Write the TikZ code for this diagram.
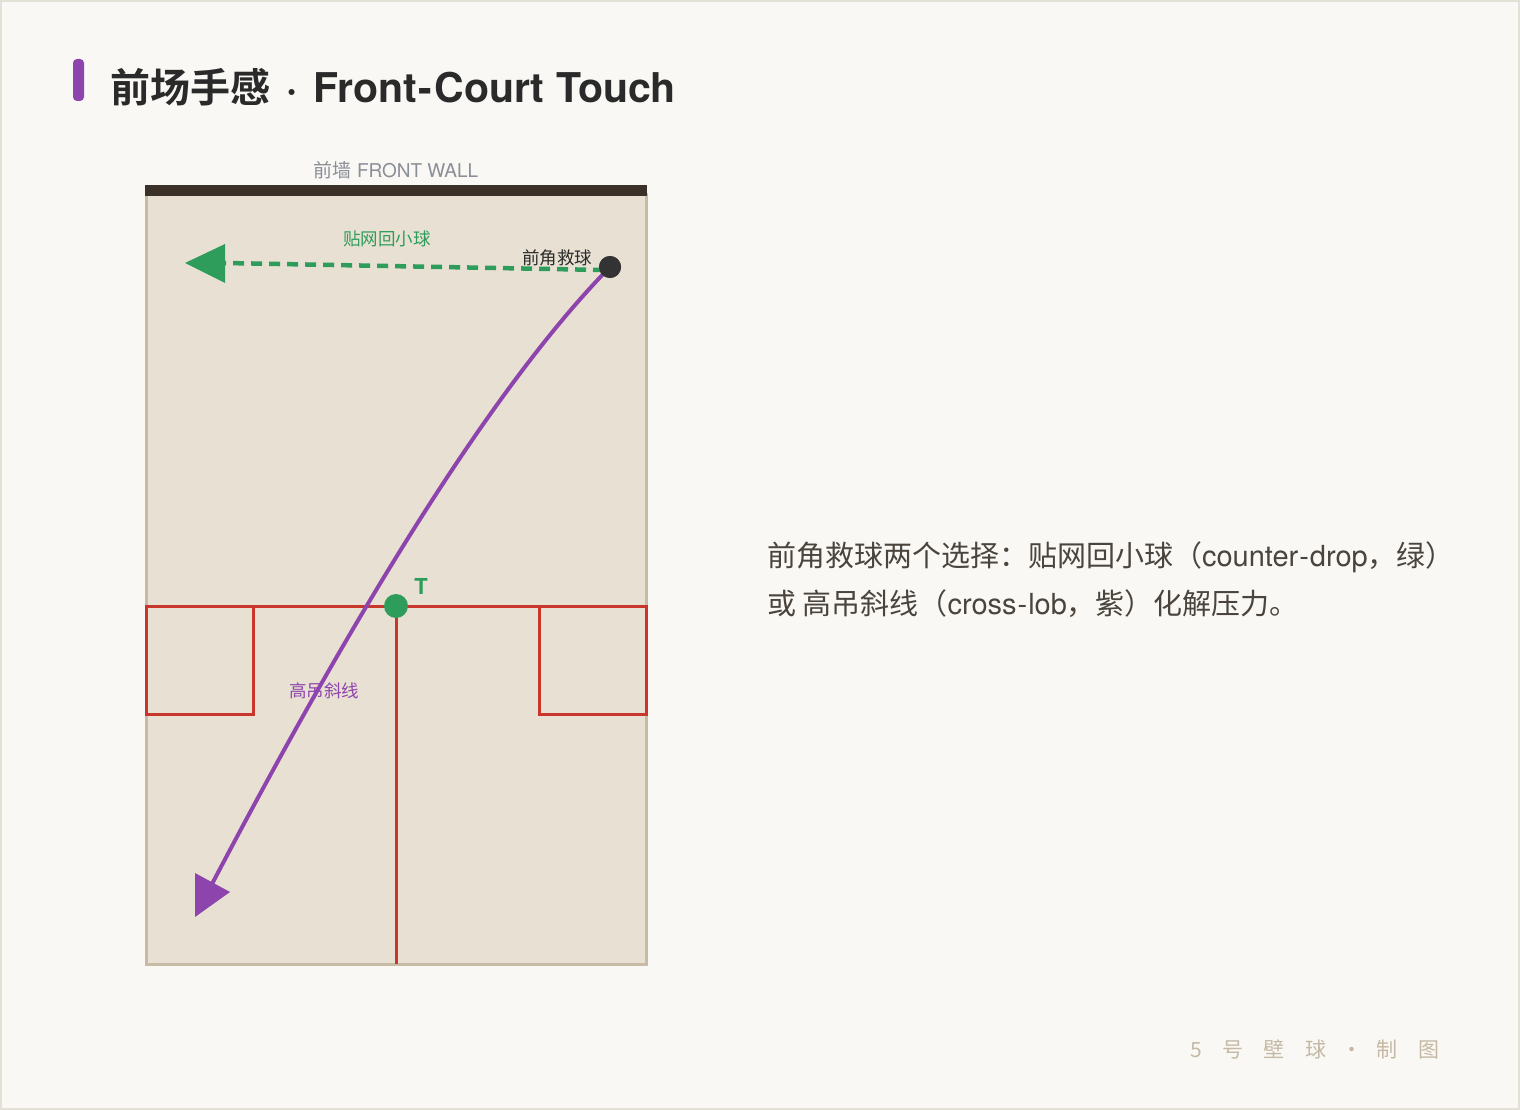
\documentclass[tikz,border=0pt]{standalone}
\usepackage{fontspec}
\setmainfont{TeX Gyre Heros}
\newfontfamily\cjk{Noto Sans CJK SC}[BoldFont={Noto Sans CJK SC Bold}]
\definecolor{bg}{HTML}{F9F8F4}
\definecolor{edgec}{HTML}{E3E0D6}
\definecolor{courtfill}{HTML}{E8E1D3}
\definecolor{courtline}{HTML}{C8BBA6}
\definecolor{wallc}{HTML}{3B3129}
\definecolor{redl}{HTML}{C9372C}
\definecolor{greenc}{HTML}{2E9C5A}
\definecolor{purplec}{HTML}{8E44AD}
\definecolor{ink}{HTML}{2A2A2A}
\definecolor{bodyink}{HTML}{4A443D}
\definecolor{wallgray}{HTML}{8A8E96}
\definecolor{footc}{HTML}{C5B9A5}
\definecolor{balldark}{HTML}{333333}
\begin{document}
\begin{tikzpicture}[x=1pt,y=-1pt,
  every node/.style={inner sep=0pt, outer sep=0pt},
  redline/.style={draw=redl, line width=3pt},
  smalllbl/.style={anchor=base, font=\cjk\fontsize{17.5}{20}\selectfont},
  droppath/.style={draw=greenc, line width=4.5pt, dash pattern=on 11pt off 7pt},
  lobpath/.style={draw=purplec, line width=4pt},
  dotstyle/.style={circle, minimum size=#1, inner sep=0pt}
]
\useasboundingbox (0,0) rectangle (1520,1110);
\fill[bg] (0,0) rectangle (1520,1110);
\draw[edgec, line width=2pt] (1,1) rectangle (1519,1109);

% title
\fill[purplec, rounded corners=4pt] (73,59) rectangle (84,101);
\node[anchor=base west, text=ink] (title) at (110,103)
  {\fontsize{40}{48}\selectfont{\cjk\bfseries 前场手感}\hspace{16pt}\bfseries ·\hspace{16pt}\fontsize{41}{48}\selectfont Front\kern2pt-\kern2pt Court Touch};

% court
\draw[fill=courtfill, draw=courtline, line width=3pt] (146,195) rectangle (646,964);
\fill[wallc] (145,185) rectangle (647,196);
\node[anchor=base, text=wallgray, font=\fontsize{19}{22}\selectfont] (wall) at (396,178) {{\cjk 前墙} FRONT WALL};

% court lines
\draw[redline] (146,606) -- (646,606);
\draw[redline] (396,606) -- (396,964);
\draw[redline] (146,606) rectangle (253,714);
\draw[redline] (539,606) rectangle (646,714);

% shots
\coordinate (dropstart) at (604,270);
\coordinate (dropend) at (225,263);
\coordinate (lobend) at (212,884);
\node[dotstyle=22pt, fill=balldark] (ball) at (610,267) {};
\draw[droppath] (dropstart) -- (dropend);
\fill[greenc] (185,263) -- (225,244) -- (225,283) -- cycle;
\draw[lobpath] (ball.center) .. controls (503,376) and (371,581) .. (lobend);
\fill[purplec] (195,873) -- (230,892) -- (195,917) -- cycle;
\node[dotstyle=22pt, fill=balldark] (ball2) at (610,267) {};
\node[dotstyle=24pt, fill=greenc] (tdot) at (396,606) {};

% labels
\node[anchor=base, text=greenc, font=\bfseries\fontsize{22}{24}\selectfont] (tlbl) at (421,594) {T};
\node[smalllbl, text=greenc] (droplbl) at (387,245) {贴网回小球};
\node[smalllbl, text=ink] (balllbl) at (557,264) {前角救球};
\node[smalllbl, text=purplec] (loblbl) at (324,697) {高吊斜线};

% description
\node[anchor=base west, text=bodyink, font=\fontsize{29}{34}\selectfont] (desc1) at (767,566)
  {{\cjk 前角救球两个选择：贴网回小球（}counter\kern1pt-\kern1pt drop{\cjk ，绿）}};
\node[anchor=base west, text=bodyink, font=\fontsize{29}{34}\selectfont] (desc2) at (767,614)
  {{\cjk 或 高吊斜线（}cross\kern1pt-\kern1pt lob{\cjk ，紫）化解压力。}};

% footer
\foreach \c/\x [count=\i] in {5/1196, 号/1233, 壁/1274, 球/1316, ·/1352, 制/1387, 图/1429}
  \node[anchor=base, text=footc, font=\cjk\fontsize{21}{24}\selectfont] (f\i) at (\x,1057) {\c};
\end{tikzpicture}
\end{document}
